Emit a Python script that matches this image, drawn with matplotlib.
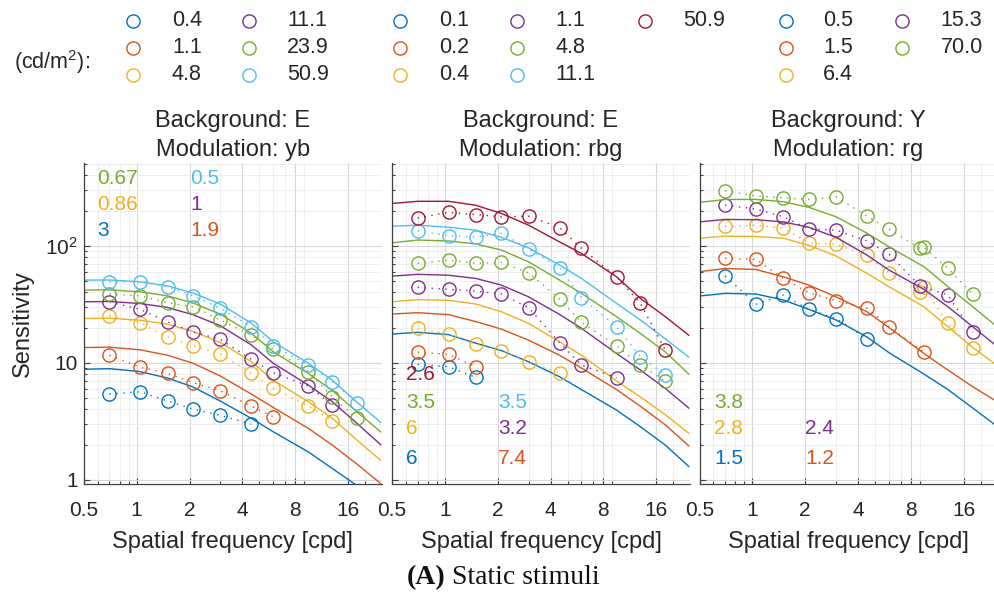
import matplotlib
matplotlib.use("Agg")
import matplotlib.pyplot as plt
from matplotlib.ticker import FixedLocator, NullFormatter, LogLocator

plt.rcParams['font.family'] = ['Liberation Sans', 'DejaVu Sans']
plt.rcParams['mathtext.fontset'] = 'custom'
plt.rcParams['mathtext.rm'] = 'Liberation Sans'

# MATLAB default line colours
c_blue = '#0072BD'
c_orange = '#D95319'
c_yellow = '#EDB120'
c_purple = '#7E2F8E'
c_green = '#77AC30'
c_cyan = '#4DBEEE'
c_red = '#A2142F'

# stimulus frequencies (cpd) and frequencies at which the fitted curves were read
freqs = [0.7, 1.05, 1.5, 2.1, 3, 4.5, 6, 9.5, 13, 18]
freqs_c = [0.5, 0.7, 1.05, 1.5, 2.1, 3, 4.5, 6, 9.5, 13, 18, 24.5]

# ---- panel 1 : background E, modulation yb
p1_lum = ['0.4', '1.1', '4.8', '11.1', '23.9', '50.9']
p1_col = [c_blue, c_orange, c_yellow, c_purple, c_green, c_cyan]
p1_meas = [
    [5.40, 5.65, 4.71, 4.02, 3.55, 2.99],
    [11.6, 9.14, 8.12, 6.75, 5.77, 4.26, 3.45],
    [25.1, 22.0, 16.6, 13.9, 11.9, 8.12, 6.04, 4.27, 3.19],
    [33.2, 28.6, 22.4, 18.3, 15.85, 10.7, 8.22, 6.32, 4.35],
    [38.7, 37.4, 32.6, 30.1, 23.2, 17.2, 13.1, 8.38, 5.12, 3.35],
    [49.2, 49.2, 44.6, 37.4, 29.2, 20.3, 14.0, 9.56, 6.88, 4.55],
]
p1_fit = [
    [8.8, 8.9, 8.4, 7.4, 6.2, 4.7, 3.35, 2.57, 1.73, 1.25, 0.89, 0.62],
    [13.5, 13.6, 12.9, 11.6, 9.9, 7.7, 5.4, 4.15, 2.75, 1.98, 1.36, 0.93],
    [23.9, 24, 23.1, 21.4, 18.5, 14.9, 10.2, 7.1, 4.65, 3.35, 2.18, 1.47],
    [33.2, 33.4, 32.1, 29.7, 25.7, 20.7, 14.2, 9.9, 6.45, 4.65, 3.03, 2.0],
    [41.8, 42, 40.4, 37.3, 32.4, 26, 17.9, 12.4, 8.1, 5.8, 3.8, 2.57],
    [50.9, 51, 49.2, 45.5, 39.4, 31.7, 21.8, 15.1, 9.9, 7.1, 4.6, 3.1],
]
p1_notes = [['0.67', '0.86', '3'], ['0.5', '1', '1.9']]
p1_note_col = [[c_green, c_yellow, c_blue], [c_cyan, c_purple, c_orange]]

# ---- panel 2 : background E, modulation rbg
p2_lum = ['0.1', '0.2', '0.4', '1.1', '4.8', '11.1', '50.9']
p2_col = [c_blue, c_orange, c_yellow, c_purple, c_green, c_cyan, c_red]
p2_meas = [
    [9.69, 9.25, 7.50],
    [12.3, 11.8, 9.25],
    [19.7, 17.5, 14.4, 12.7, 10.2, 8.12],
    [44.1, 42.4, 41.0, 38.7, 29.5, 14.9, 9.56, 7.45],
    [70.7, 75.5, 70.7, 72.1, 58.8, 35.0, 22.2, 14.0, 9.56, 6.98],
    [134, 122, 119, 128, 93.7, 64.9, 35.9, 20.3, 11.3, 7.85],
    [173, 193, 185, 177, 179, 143, 95, 54.3, 32.2, 12.8],
]
p2_fit = [
    [17.6, 18.2, 17.4, 14.7, 12.7, 10.2, 7.6, 5.9, 3.94, 2.84, 1.98, 1.30],
    [26.1, 26.8, 25.8, 22.5, 19.4, 15.6, 11.6, 9.0, 5.9, 4.25, 2.95, 1.95],
    [33.2, 34.6, 34.2, 31.8, 27.3, 21.7, 15.1, 11.6, 7.0, 5.1, 3.6, 2.5],
    [55, 57, 56, 52.6, 46.1, 36.6, 25.9, 19.7, 12.0, 8.66, 6.04, 4.1],
    [106, 112, 110, 103.5, 91.9, 72.9, 50.9, 39.2, 24.8, 17.8, 12.4, 8.0],
    [147, 150, 144, 136, 118, 96, 68.4, 52.6, 32.2, 23.2, 16.0, 11.2],
    [230, 240, 240, 222, 189, 150, 108, 86, 54.3, 35.5, 24.8, 17.2],
]
p2_notes = [['2.6', '3.5', '6', '6'], ['', '3.5', '3.2', '7.4']]
p2_note_col = [[c_red, c_green, c_yellow, c_blue], [c_red, c_cyan, c_purple, c_orange]]

# ---- panel 3 : background Y, modulation rg
p3_lum = ['0.5', '1.5', '6.4', '15.3', '70.0']
p3_col = [c_blue, c_orange, c_yellow, c_purple, c_green]
p3_freq = [
    [0.7, 1.05, 1.5, 2.1, 3, 4.5],
    [0.7, 1.05, 1.5, 2.1, 3, 4.5, 6, 9.5],
    [0.7, 1.05, 1.5, 2.1, 3, 4.5, 6, 9, 9.5, 13, 18],
    [0.7, 1.05, 1.5, 2.1, 3, 4.5, 6, 9, 13, 18],
    [0.7, 1.05, 1.5, 2.1, 3, 4.5, 6, 9, 9.5, 13, 18],
]
p3_meas = [
    [55.1, 31.7, 37.9, 28.6, 23.9, 16.0],
    [78, 76.5, 52.6, 39.6, 33.9, 29.2, 20.3, 12.3],
    [147, 150, 141, 106, 103, 83.2, 58.8, 40.4, 44.1, 21.7, 13.3],
    [223, 206, 177, 139, 136, 110, 84.9, 45.3, 37.9, 18.2],
    [295, 267, 257, 249, 262, 179, 139, 95, 96.9, 64.1, 38.7],
]
p3_fit = [
    [37.2, 39.2, 38.7, 34.4, 28.6, 23.2, 16.6, 12.2, 8.0, 5.9, 4.1, 2.9],
    [60, 64, 62.7, 54.3, 46.1, 36.6, 27.3, 20.0, 12.0, 8.66, 6.24, 4.7],
    [116, 121, 120, 116, 101, 81.7, 58.1, 44.7, 30.1, 20.3, 13.5, 9.6],
    [160, 168, 167, 160, 144, 118, 83.2, 62, 42.4, 30.1, 20.3, 14.0],
    [235, 249, 249, 238, 213, 177, 128, 98, 66.2, 44.7, 30.1, 20.6],
]
p3_notes = [['3.8', '2.8', '1.5'], ['', '2.4', '1.2']]
p3_note_col = [[c_green, c_yellow, c_blue], [c_green, c_purple, c_orange]]

titles = ['Background: E\nModulation: yb', 'Background: E\nModulation: rbg',
          'Background: Y\nModulation: rg']
xticks = [0.5, 1, 2, 4, 8, 16]
xticklabels = ['0.5', '1', '2', '4', '8', '16']
yticks = [1, 10, 100]
yticklabels = ['1', '10', r'$\mathregular{10^2}$']

W, H = 994, 595
fig = plt.figure(figsize=(W / 100, H / 100), dpi=100)
txt = '#262626'

lefts = [83.8, 392, 699.5]
ax_w, ax_top, ax_bot = 298, 163, 484
axes = []
for i, lft in enumerate(lefts):
    ax = fig.add_axes([lft / W, (H - ax_bot) / H, ax_w / W, (ax_bot - ax_top) / H])
    ax.set_xscale('log')
    ax.set_yscale('log')
    ax.set_xlim(0.5, 24.9)
    ax.set_ylim(0.92, 510)
    ax.xaxis.set_major_locator(FixedLocator(xticks))
    ax.set_xticklabels(xticklabels)
    ax.xaxis.set_minor_locator(LogLocator(base=10, subs=range(2, 10)))
    ax.xaxis.set_minor_formatter(NullFormatter())
    ax.yaxis.set_major_locator(FixedLocator(yticks))
    ax.yaxis.set_minor_locator(LogLocator(base=10, subs=range(2, 10)))
    ax.yaxis.set_minor_formatter(NullFormatter())
    if i == 0:
        ax.set_yticklabels(yticklabels)
        ax.set_ylabel('Sensitivity', fontsize=17, color=txt, labelpad=8)
    else:
        ax.set_yticklabels([])
    ax.tick_params(which='both', direction='in', colors='#404040', labelcolor=txt,
                   labelsize=15, width=0.8)
    ax.tick_params(axis='x', which='both', pad=12)
    ax.tick_params(axis='y', which='both', pad=4)
    ax.tick_params(which='major', length=4)
    ax.tick_params(which='minor', length=2.5)
    for s in ['top', 'right']:
        ax.spines[s].set_visible(False)
    for s in ['left', 'bottom']:
        ax.spines[s].set_color('#404040')
        ax.spines[s].set_linewidth(0.9)
    ax.grid(True, which='major', color='#d8d8d8', lw=0.8)
    ax.grid(True, which='minor', color='#ebebeb', lw=0.6)
    ax.set_axisbelow(True)
    ax.set_title(titles[i], fontsize=17, color=txt, pad=5, linespacing=1.4)
    ax.set_xlabel('Spatial frequency [cpd]', fontsize=17, color=txt, labelpad=8)
    axes.append(ax)

mk = dict(marker='o', ms=9.5, mfc='none', mew=1.0, ls=(0, (1, 4)), lw=1.0)

# panel 1
for vals, fit, col in zip(p1_meas, p1_fit, p1_col):
    axes[0].plot(freqs[:len(vals)], vals, color=col, **mk)
    axes[0].plot(freqs_c, fit, color=col, lw=1.0)
# panel 2
for vals, fit, col in zip(p2_meas, p2_fit, p2_col):
    axes[1].plot(freqs[:len(vals)], vals, color=col, **mk)
    axes[1].plot(freqs_c, fit, color=col, lw=1.0)
# panel 3
for fr, vals, fit, col in zip(p3_freq, p3_meas, p3_fit, p3_col):
    axes[2].plot(fr, vals, color=col, **mk)
    axes[2].plot(freqs_c, fit, color=col, lw=1.0)

# overlay in pixel coordinates for legends and notes
ov = fig.add_axes([0, 0, 1, 1])
ov.set_xlim(0, W)
ov.set_ylim(H, 0)
ov.axis('off')
ov.patch.set_alpha(0)


def notes(cols_x, rows_y, labels, colors):
    for x, labs, cols in zip(cols_x, labels, colors):
        for y, lab, c in zip(rows_y, labs, cols):
            if lab:
                ov.text(x, y, lab, color=c, fontsize=15, ha='left', va='center')


notes([97, 190], [179, 205, 231], p1_notes, p1_note_col)
notes([406, 498], [375, 402.5, 429, 458], p2_notes, p2_note_col)
notes([714, 805.5], [402.5, 429, 458], p3_notes, p3_note_col)


def legend(marker_x, text_x, labels, colors, nrows=3):
    rows_y = [20.5, 47.5, 75]
    for k, (lab, c) in enumerate(zip(labels, colors)):
        col, row = divmod(k, nrows)
        ov.plot([marker_x[col]], [rows_y[row]], marker='o', ms=9.5, mfc='none',
                mew=1.0, color=c, ls='none')
        ov.text(text_x[col], rows_y[row], lab, fontsize=15.5, color=txt,
                ha='left', va='center')


ov.text(14, 62, r'(cd/m$\mathregular{^2}$):', fontsize=15.5, color=txt,
        ha='left', va='center')
legend([133, 248.5], [172, 287], p1_lum, p1_col)
legend([400, 516.5, 645], [439, 555, 683], p2_lum, p2_col)
legend([786, 901.5], [823, 940.5], p3_lum, p3_col)

ov.text(446, 578, '(A)', fontsize=20, fontweight='bold',
        family='Liberation Serif', ha='right', va='center', color='#111111')
ov.text(452, 578, 'Static stimuli', fontsize=20,
        family='Liberation Serif', ha='left', va='center', color='#111111')

fig.savefig('out.png', dpi=100)
